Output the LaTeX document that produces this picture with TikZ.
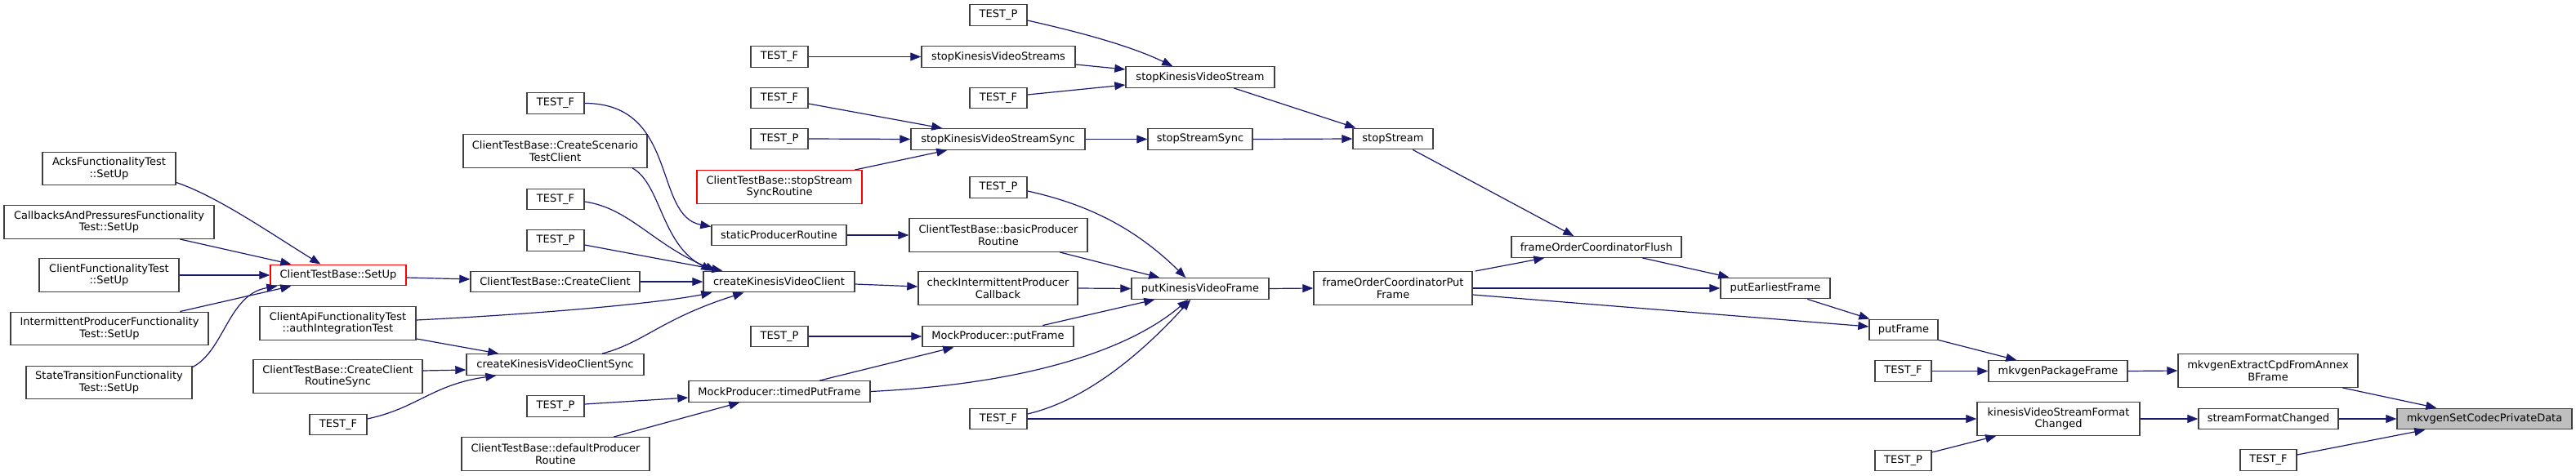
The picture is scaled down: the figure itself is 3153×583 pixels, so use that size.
\documentclass[tikz,border=0pt]{standalone}
\usepackage{fontspec}
\setmainfont{DejaVu Sans}
\usetikzlibrary{arrows.meta,calc}
\definecolor{edgeblue}{HTML}{191970}
\definecolor{nodeborder}{HTML}{404040}
\definecolor{rootfill}{HTML}{BFBFBF}
\tikzset{
  fn/.style={draw=nodeborder, line width=1.4pt, fill=white, inner sep=0pt, align=center,
    font=\fontsize{13}{14.5}\selectfont},
  fnred/.style={fn, draw=red},
  fnroot/.style={fn, fill=rootfill},
  callarrow/.style={draw=edgeblue, line width=1.2pt, -{Triangle[length=13pt,width=10pt]}},
  one/.style={minimum height=25.5pt},
  two/.style={minimum height=40.5pt},
}
\begin{document}
\begin{tikzpicture}[x=1pt,y=-1pt]
\useasboundingbox (0,0) rectangle (3153,583);
% column 1
\node[fn,two,minimum width=163pt] (acks) at (133.5,206.5) {AcksFunctionalityTest\\::SetUp};
\node[fn,two,minimum width=257pt] (callbacks) at (133.5,272) {CallbacksAndPressuresFunctionality\\Test::SetUp};
\node[fn,two,minimum width=171pt] (clientfunc) at (133.5,337) {ClientFunctionalityTest\\::SetUp};
\node[fn,two,minimum width=242pt] (intermittent) at (134,402.5) {IntermittentProducerFunctionality\\Test::SetUp};
\node[fn,two,minimum width=203pt] (statetrans) at (133.5,468.5) {StateTransitionFunctionality\\Test::SetUp};
% column 2
\node[fnred,one,minimum width=166pt] (setup) at (414,337) {ClientTestBase::SetUp};
\node[fn,two,minimum width=191pt] (authint) at (413.5,396) {ClientApiFunctionalityTest\\::authIntegrationTest};
\node[fn,two,minimum width=207pt] (ccrsync) at (413.5,461) {ClientTestBase::CreateClient\\RoutineSync};
\node[fn,one,minimum width=70pt] (testfa) at (414,520) {TEST\_F};
% column 3
\node[fn,one,minimum width=70pt] (testfb) at (680,126.5) {TEST\_F};
\node[fn,two,minimum width=225pt] (scenario) at (679.5,185) {ClientTestBase::CreateScenario\\TestClient};
\node[fn,one,minimum width=70pt] (testfc) at (680,244) {TEST\_F};
\node[fn,one,minimum width=70pt] (testpa) at (680,294.5) {TEST\_P};
\node[fn,one,minimum width=207pt] (createclient) at (679.5,345) {ClientTestBase::CreateClient};
\node[fn,one,minimum width=217pt] (ckvcsync) at (679.5,446.5) {createKinesisVideoClientSync};
\node[fn,one,minimum width=70pt] (testpb) at (680,497.5) {TEST\_P};
\node[fn,two,minimum width=230pt] (defprod) at (680,556) {ClientTestBase::defaultProducer\\Routine};
% column 4
\node[fn,one,minimum width=70pt] (testfd) at (954,69.5) {TEST\_F};
\node[fn,one,minimum width=70pt] (testfe) at (954,120) {TEST\_F};
\node[fn,one,minimum width=70pt] (testpc) at (954,170) {TEST\_P};
\node[fnred,two,minimum width=202pt] (stoproutine) at (954,229) {ClientTestBase::stopStream\\SyncRoutine};
\node[fn,one,minimum width=165pt] (staticprod) at (953.5,288) {staticProducerRoutine};
\node[fn,one,minimum width=185pt] (ckvc) at (953.5,345) {createKinesisVideoClient};
\node[fn,one,minimum width=70pt] (testpd) at (954,412) {TEST\_P};
\node[fn,one,minimum width=222pt] (timedput) at (954,479.5) {MockProducer::timedPutFrame};
% column 5
\node[fn,one,minimum width=70pt] (testpe) at (1222,18.5) {TEST\_P};
\node[fn,one,minimum width=188pt] (stopkvss) at (1222,69.5) {stopKinesisVideoStreams};
\node[fn,one,minimum width=70pt] (testff) at (1222,120) {TEST\_F};
\node[fn,one,minimum width=213pt] (stopkvssync) at (1221.5,170.5) {stopKinesisVideoStreamSync};
\node[fn,one,minimum width=70pt] (testpf) at (1222,229.5) {TEST\_P};
\node[fn,two,minimum width=218pt] (basicprod) at (1222,288) {ClientTestBase::basicProducer\\Routine};
\node[fn,two,minimum width=195pt] (checkint) at (1221.5,353) {checkIntermittentProducer\\Callback};
\node[fn,one,minimum width=185pt] (mockput) at (1221.5,412) {MockProducer::putFrame};
\node[fn,one,minimum width=70pt] (testfg) at (1222,513) {TEST\_F};
% column 6
\node[fn,one,minimum width=182pt] (stopkvs) at (1469,94.5) {stopKinesisVideoStream};
\node[fn,one,minimum width=128pt] (stopsync) at (1469,170.5) {stopStreamSync};
\node[fn,one,minimum width=168pt] (putkvf) at (1469,353.5) {putKinesisVideoFrame};
% column 7
\node[fn,one,minimum width=98pt] (stopstream) at (1705,170) {stopStream};
\node[fn,two,minimum width=194pt] (focput) at (1705,353) {frameOrderCoordinatorPut\\Frame};
% column 8+
\node[fn,one,minimum width=208pt] (focflush) at (1954,302.5) {frameOrderCoordinatorFlush};
\node[fn,one,minimum width=134pt] (putearliest) at (2173,353) {putEarliestFrame};
\node[fn,one,minimum width=84pt] (putframe) at (2330,404) {putFrame};
\node[fn,one,minimum width=69pt] (testfh) at (2329.5,454.5) {TEST\_F};
\node[fn,one,minimum width=69pt] (testpg) at (2329.5,564) {TEST\_P};
\node[fn,one,minimum width=170pt] (mkvpkg) at (2519,454.5) {mkvgenPackageFrame};
\node[fn,two,minimum width=199pt] (kvsfc) at (2519.5,513) {kinesisVideoStreamFormat\\Changed};
\node[fn,two,minimum width=220pt] (mkvextract) at (2776,454) {mkvgenExtractCpdFromAnnex\\BFrame};
\node[fn,one,minimum width=171pt] (sfc) at (2776.5,513) {streamFormatChanged};
\node[fn,one,minimum width=69pt] (testfi) at (2776.5,563.5) {TEST\_F};
\node[fnroot,one,minimum width=214pt] (root) at (3041,513) {mkvgenSetCodecPrivateData};

% edges
\draw[callarrow] ($(acks.south east)+(0,-4)$) .. controls +(50,17) and +(-63,-39) .. ($(setup.north west)+(62,0)$);
\draw[callarrow] ($(callbacks.south west)+(216,0)$) -- ($(setup.north west)+(26,0)$);
\draw[callarrow] (clientfunc.east) -- (setup.west);
\draw[callarrow] ($(intermittent.north west)+(208,0)$) -- ($(setup.south west)+(26,0)$);
\draw[callarrow] ($(statetrans.north east)+(0,2)$) .. controls +(39,-20) and +(-60,10) .. ($(setup.south west)+(9,0)$);
\draw[callarrow] ($(setup.east)+(0,3)$) -- ($(createclient.west)+(0,-3)$);
\draw[callarrow] (createclient.east) -- (ckvc.west);
\draw[callarrow] ($(authint.east)+(0,-4)$) .. controls +(141,-7) and +(-72,14) .. ($(ckvc.south west)+(11,0)$);
\draw[callarrow] ($(authint.south east)+(0,-2)$) -- ($(ckvcsync.north west)+(40,0)$);
\draw[callarrow] ($(ccrsync.east)+(0,-7)$) -- ($(ckvcsync.west)+(0,6.5)$);
\draw[callarrow] ($(testfa.east)+(0,-7)$) .. controls +(61,-13) and +(-78,11) .. ($(ckvcsync.south west)+(37,0)$);
\draw[callarrow] ($(ckvcsync.north west)+(167,0)$) .. controls +(52,-14) and +(-101,32) .. ($(ckvc.south west)+(50,0)$);
\draw[callarrow] (testfb.east) .. controls +(115,0) and +(-71,-13) .. ($(staticprod.north west)+(0,3)$);
\draw[callarrow] ($(scenario.south west)+(208,0)$) .. controls +(35,20) and +(-62,-32) .. ($(ckvc.north west)+(11,0)$);
\draw[callarrow] ($(testfc.east)+(0,3)$) .. controls +(55,8) and +(-77,-32) .. ($(ckvc.north west)+(16,0)$);
\draw[callarrow] ($(testpa.east)+(0,5.5)$) -- ($(ckvc.north west)+(24,0)$);
\draw[callarrow] (staticprod.east) -- (basicprod.west);
\draw[callarrow] ($(ckvc.east)+(0,3)$) -- ($(checkint.west)+(0,-2)$);
\draw[callarrow] (testpd.east) -- (mockput.west);
\draw[callarrow] ($(timedput.north west)+(161,0)$) -- ($(mockput.south west)+(39,0)$);
\draw[callarrow] (timedput.east) .. controls +(185,-9) and +(-75,64) .. ($(putkvf.south west)+(70,0)$);
\draw[callarrow] ($(testpb.east)+(0,-2.5)$) -- ($(timedput.west)+(0,7.5)$);
\draw[callarrow] ($(defprod.north west)+(187,0)$) -- ($(timedput.south west)+(63,0)$);
\draw[callarrow] (testfd.east) -- (stopkvss.west);
\draw[callarrow] ($(testfe.east)+(0,7)$) -- ($(stopkvssync.north west)+(39,0)$);
\draw[callarrow] (testpc.east) -- (stopkvssync.west);
\draw[callarrow] ($(stoproutine.north west)+(194,0)$) -- ($(stopkvssync.south west)+(45,0)$);
\draw[callarrow] ($(testpe.east)+(0,6.5)$) .. controls +(53,12) and +(-56,-27) .. ($(stopkvs.north west)+(58,0)$);
\draw[callarrow] ($(stopkvss.east)+(0,9.5)$) -- ($(stopkvs.west)+(0,-9.5)$);
\draw[callarrow] ($(testff.east)+(0,-4)$) -- ($(stopkvs.west)+(0,9.5)$);
\draw[callarrow] (stopkvssync.east) -- (stopsync.west);
\draw[callarrow] ($(stopkvs.south west)+(133,0)$) -- ($(stopstream.north west)+(4,0)$);
\draw[callarrow] (stopsync.east) -- (stopstream.west);
\draw[callarrow] ($(stopstream.south west)+(74,0)$) -- ($(focflush.north west)+(77,0)$);
\draw[callarrow] ($(testpf.east)+(0,4.5)$) .. controls +(73,16) and +(-62,-61) .. ($(putkvf.north west)+(67,0)$);
\draw[callarrow] ($(basicprod.south west)+(185,0)$) -- ($(putkvf.north west)+(35,0)$);
\draw[callarrow] (checkint.east) -- (putkvf.west);
\draw[callarrow] ($(mockput.north west)+(148,0)$) -- ($(putkvf.south west)+(29,0)$);
\draw[callarrow] ($(testfg.east)+(0,-6)$) .. controls +(73,-17) and +(-58,64) .. ($(putkvf.south west)+(73,0)$);
\draw[callarrow] (testfg.east) -- (kvsfc.west);
\draw[callarrow] (putkvf.east) -- (focput.west);
\draw[callarrow] ($(focput.north east)+(3,0)$) -- ($(focflush.south west)+(41,0)$);
\draw[callarrow] (focput.east) -- (putearliest.west);
\draw[callarrow] ($(focput.east)+(0,8)$) -- ($(putframe.west)+(0,-4)$);
\draw[callarrow] ($(focflush.south west)+(161,0)$) -- ($(putearliest.north west)+(11,0)$);
\draw[callarrow] ($(putearliest.south west)+(107,0)$) -- ($(putframe.north west)+(1,0)$);
\draw[callarrow] ($(putframe.south east)+(0,-1)$) -- ($(mkvpkg.north west)+(35,0)$);
\draw[callarrow] (testfh.east) -- (mkvpkg.west);
\draw[callarrow] (mkvpkg.east) -- (mkvextract.west);
\draw[callarrow] (kvsfc.east) -- (sfc.west);
\draw[callarrow] ($(testpg.east)+(0,-10)$) -- ($(kvsfc.south west)+(24,0)$);
\draw[callarrow] ($(mkvextract.south west)+(202,0)$) -- ($(root.north west)+(49,0)$);
\draw[callarrow] (sfc.east) -- (root.west);
\draw[callarrow] ($(testfi.east)+(0,-6.5)$) -- ($(root.south west)+(35,0)$);
\end{tikzpicture}
\end{document}
